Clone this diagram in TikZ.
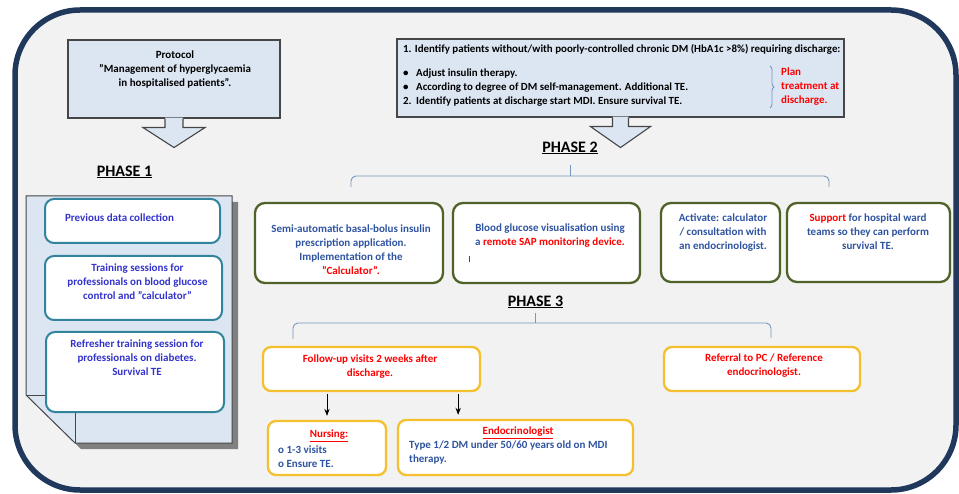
\documentclass[tikz,border=0pt]{standalone}
\usepackage{fontspec}
\setmainfont{Carlito}
\usetikzlibrary{arrows.meta,calc,decorations.pathreplacing,positioning}
\definecolor{navy}{RGB}{31,56,92}
\definecolor{bggray}{RGB}{242,242,242}
\definecolor{paleblue}{RGB}{220,230,242}
\definecolor{edgegray}{RGB}{70,70,70}
\definecolor{tealline}{RGB}{49,132,155}
\definecolor{oliveline}{RGB}{79,98,40}
\definecolor{goldline}{RGB}{245,192,45}
\definecolor{bracecol}{RGB}{120,150,190}
\definecolor{violettxt}{RGB}{51,51,204}
\definecolor{bluetxt}{RGB}{47,84,160}
\definecolor{redtxt}{RGB}{255,0,0}

\begin{document}
\begin{tikzpicture}[x=1pt,y=-1pt,>=Stealth,
  txt/.style={font=\fontsize{11}{14}\selectfont\bfseries,align=center,inner sep=0pt},
  phase/.style={font=\fontsize{16}{18}\selectfont\bfseries,inner sep=0pt},
  greybox/.style={draw=edgegray,fill=paleblue,line width=1.1pt,inner sep=0pt},
  tealbox/.style={draw=tealline,fill=white,line width=2pt,rounded corners=9pt,inner sep=0pt},
  greenbox/.style={draw=oliveline,fill=white,line width=2.3pt,rounded corners=10pt,inner sep=0pt},
  goldbox/.style={draw=goldline,fill=white,line width=2.3pt,rounded corners=8pt,inner sep=0pt},
  brk/.style={draw=bracecol,line width=0.9pt,rounded corners=5pt}]
\useasboundingbox (0,0) rectangle (959,494);
\clip (0,0) rectangle (959,494);
% frame
\draw[navy,line width=5.5pt,fill=bggray,rounded corners=65pt] (15,10) rectangle (956,490);

% protocol
\node[greybox,minimum width=212pt,minimum height=78pt] (proto) at (174,79) {};
\node[txt] (prototxt) at (175,70) {Protocol\\"Management of hyperglycaemia\\in hospitalised patients".};
\fill[paleblue,shift={(proto.south)}] (-9,-1)--(-9,9)--(-31,9)--(0,29)--(31,9)--(9,9)--(9,-1)--cycle;
\draw[edgegray,line width=1.1pt,shift={(proto.south)}] (-9,0)--(-9,9)--(-31,9)--(0,29)--(31,9)--(9,9)--(9,0);

% discharge box
\node[greybox,minimum width=447pt,minimum height=78pt] (disch) at (620.5,78) {};
\node[txt,font=\fontsize{10.9}{14}\selectfont\bfseries,align=left,anchor=west] (dischtxt) at (403,75) {1. Identify patients without/with poorly-controlled chronic DM (HbA1c >8\%) requiring discharge:\\[10pt]
\makebox[13pt][l]{\textbullet}Adjust insulin therapy.\\
\makebox[13pt][l]{\textbullet}According to degree of DM self-management. Additional TE.\\
\makebox[13pt][l]{2.}Identify patients at discharge start MDI. Ensure survival TE.};
\draw[bracecol,line width=0.8pt,decorate,decoration={brace,amplitude=4pt}] (770,66)--(770,108);
\node[txt,align=left,anchor=west,text=redtxt] (plan) at (781,87) {Plan\\treatment at\\discharge.};
\fill[paleblue,shift={(disch.south)}] (-8,-1)--(-8,9)--(-30,9)--(0,30)--(30,9)--(8,9)--(8,-1)--cycle;
\draw[edgegray,line width=1.1pt,shift={(disch.south)}] (-8,0)--(-8,9)--(-30,9)--(0,30)--(30,9)--(8,9)--(8,0);

% phase 1
\node[phase] (ph1) at (124.5,172) {\underline{PHASE 1}};
\fill[gray] (32,202)--(238,202)--(238,449)--(81,449)--(32,401)--cycle;
\filldraw[fill=paleblue,draw=edgegray,line width=1pt] (26,196)--(232,196)--(232,443)--(75,443)--(26,395)--cycle;
\draw[edgegray,line width=0.8pt] (26,395)--(75,395)--(75,443);
\node[tealbox,minimum width=175pt,minimum height=44pt] (prev) at (132.5,221) {};
\node[txt,text=violettxt] (prevtxt) at (119.5,218) {Previous data collection};
\node[tealbox,minimum width=177pt,minimum height=64pt] (train) at (133.5,288) {};
\node[txt,text=violettxt] (traintxt) at (137.5,282) {Training sessions for\\professionals on blood glucose\\control and "calculator"};
\node[tealbox,minimum width=178pt,minimum height=80pt] (refresh) at (135,372) {};
\node[txt,text=violettxt] (refreshtxt) at (137,358) {Refresher training session for\\professionals on diabetes.\\Survival TE};

% phase 2
\node[phase] (ph2) at (570,148) {\underline{PHASE 2}};
\draw[brk] (351,187)--(351,176)--(829,176)--(829,187);
\draw[brk] (570,176)--(570,165);
\node[greenbox,minimum width=188pt,minimum height=80pt] (calc) at (349,243) {};
\node[txt,text=bluetxt] (calctxt) at (351,249.5) {Semi-automatic basal-bolus insulin\\prescription application.\\Implementation of the\\\textcolor{redtxt}{"Calculator".}};
\node[greenbox,minimum width=187pt,minimum height=80pt] (sap) at (546.5,243) {};
\node[txt,text=bluetxt] (saptxt) at (550,236) {Blood glucose visualisation using\\a \textcolor{redtxt}{remote SAP monitoring device.}};
\draw[redtxt,line width=0.8pt] (469,256)--(469,262);
\node[greenbox,minimum width=119pt,minimum height=79pt] (activ) at (720.5,242.5) {};
\node[txt,text=bluetxt] (activtxt) at (723,233) {Activate: calculator\\/ consultation with\\an endocrinologist.};
\node[greenbox,minimum width=163pt,minimum height=79pt] (supp) at (868.5,242.5) {};
\node[txt,text=bluetxt] (supptxt) at (868,232) {\textcolor{redtxt}{Support} for hospital ward\\teams so they can perform\\survival TE.};

% phase 3
\node[phase] (ph3) at (535.5,302) {\underline{PHASE 3}};
\draw[brk] (293,339)--(293,323)--(771,323)--(771,338);
\draw[brk] (535,323)--(535,313);
\node[goldbox,minimum width=217pt,minimum height=44pt] (follow) at (371.5,369) {};
\node[txt,text=redtxt] (followtxt) at (370,367) {Follow-up visits 2 weeks after\\discharge.};
\node[goldbox,minimum width=196pt,minimum height=44pt] (refer) at (762,369) {};
\node[txt,text=redtxt] (refertxt) at (764,365.5) {Referral to PC / Reference\\endocrinologist.};
\node[goldbox,minimum width=118pt,minimum height=54pt] (nurse) at (327,448) {};
\node[txt,text=redtxt] (nursehd) at (329,436) {\underline{Nursing:}};
\node[txt,align=left,anchor=west,text=bluetxt] (nursetxt) at (278,457) {o 1-3 visits\\o Ensure TE.};
\node[goldbox,minimum width=235pt,minimum height=55pt] (endo) at (515.5,447.5) {};
\node[txt,text=redtxt] (endohd) at (518,433) {\underline{Endocrinologist}};
\node[txt,align=left,anchor=west,text=bluetxt] (endotxt) at (409,453) {Type 1/2 DM under 50/60 years old on MDI\\therapy.};
\draw[->,line width=0.9pt,shorten <=2pt,shorten >=4pt] (follow.south -| nurse.north) -- (nurse.north);
\draw[->,line width=0.9pt,shorten <=2pt,shorten >=4pt] ([xshift=-23pt]follow.south east) -- ([xshift=-23pt]follow.south east |- endo.north);
\end{tikzpicture}
\end{document}
